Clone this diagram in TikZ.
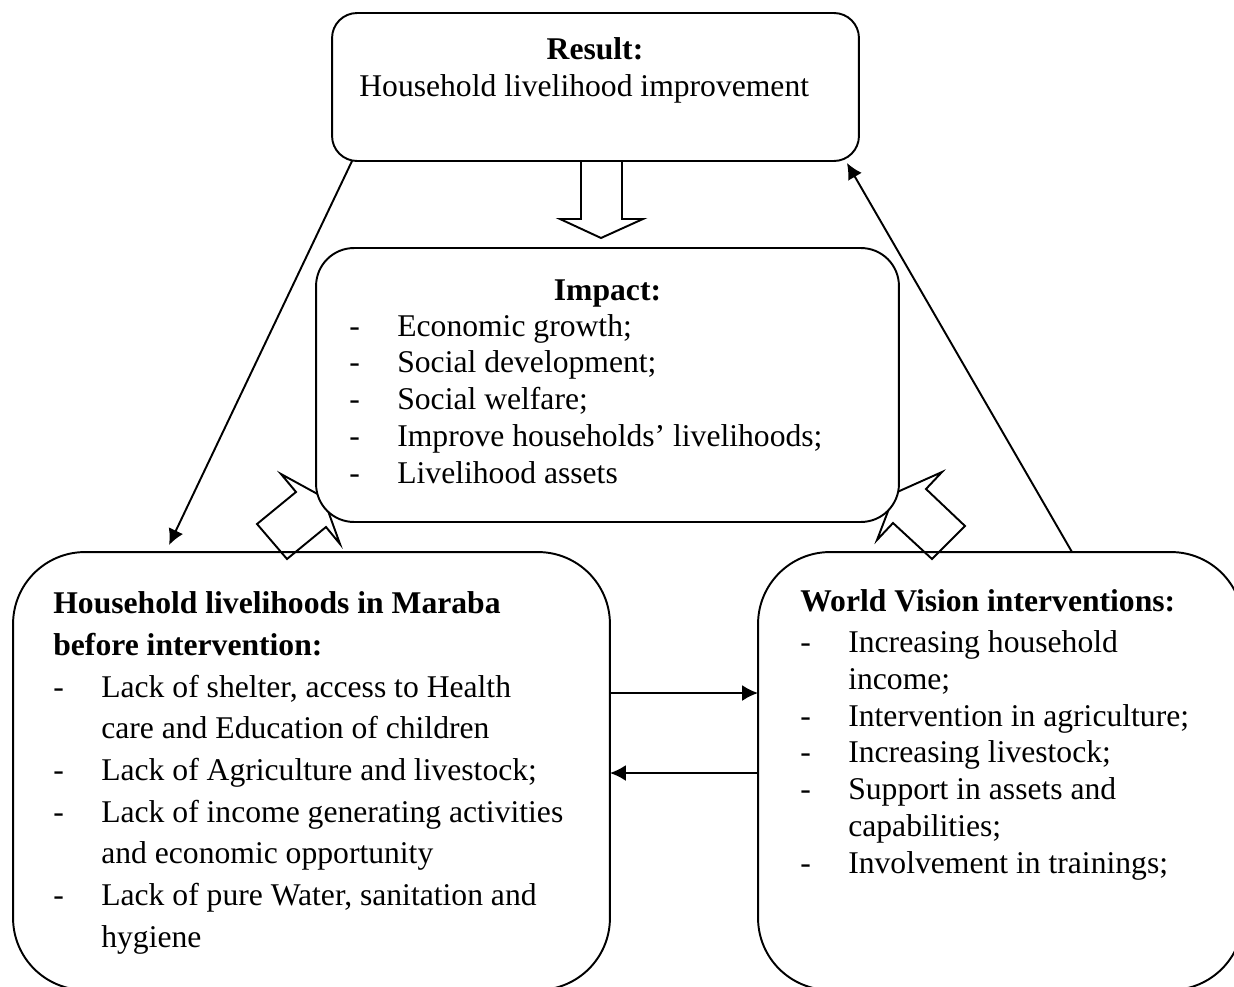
\documentclass[tikz,border=0pt]{standalone}
\usepackage{fontspec}
\setmainfont{Liberation Serif}
\usetikzlibrary{arrows.meta}

\tikzset{
box/.style={draw,line width=1.1pt,fill=white,inner sep=0,outer sep=0},
txt/.style={inner sep=0,align=left,anchor=base west},
link/.style={-{Latex[length=9pt,width=9pt]},line width=1.1pt},
hollow/.style={line width=1.1pt,line join=miter}
}
\newcommand{\dashitem}{\makebox[0.96cm][l]{-}}
\newcommand{\contline}{\hspace*{0.96cm}}

\begin{document}
\begin{tikzpicture}[x=0.02cm,y=-0.02cm,font=\fontsize{18}{20.9}\selectfont]
\useasboundingbox (0,0) rectangle (1234,987);
\clip (0,0) rectangle (1234,987);

\node[box,rounded corners=0.5cm,minimum width=10.54cm,minimum height=2.96cm] (result) at (595.5,87) {};
\draw[hollow] (581,161) -- (581,219) -- (560,219) -- (601,238) -- (643,219) -- (622,219) -- (622,161);

\node[box,rounded corners=1.44cm,minimum width=11.94cm,minimum height=8.76cm] (maraba) at (311.5,771) {};
\node[box,rounded corners=1.44cm,minimum width=9.7cm,minimum height=8.76cm] (vision) at (1000.5,771) {};

\draw[hollow] (296,492) -- (281,474) -- (323,497) -- (340,544) -- (326,527) -- (287,559) -- (257,524) -- cycle;
\draw[hollow] (926,489) -- (942,472) -- (895,493) -- (877,540) -- (893,523) -- (932,559) -- (965,526) -- cycle;

\node[box,rounded corners=0.76cm,minimum width=11.66cm,minimum height=5.48cm] (impact) at (607.5,385) {};

\draw[link] ([xshift=0.4cm]result.south west) -- ([xshift=3.12cm,yshift=0.14cm]maraba.north west);
\draw[link] ([xshift=6.28cm]vision.north west) -- ([xshift=-0.24cm,yshift=-0.04cm]result.south east);
\draw[link] ([yshift=1.56cm]maraba.east) -- ([yshift=1.56cm]vision.west);
\draw[link] ([yshift=-0.04cm]vision.west) -- ([yshift=-0.04cm]maraba.east);

\node[anchor=base,inner sep=0] (resulttitle) at (595,59) {\textbf{Result:}};
\node[txt] (resulttxt) at (359,96) {Household livelihood improvement};

\node[anchor=base,inner sep=0] (impacttitle) at (607.5,300) {\textbf{Impact:}};
\node[txt] (impactlist) at (349,483) {\dashitem Economic growth;\\
\dashitem Social development;\\
\dashitem Social welfare;\\
\dashitem Improve households’ livelihoods;\\
\dashitem Livelihood assets};

\node[txt,font=\fontsize{18}{23.7}\selectfont] (maratxt) at (53,947) {\textbf{Household livelihoods in Maraba}\\
\textbf{before intervention:}\\
\dashitem Lack of shelter, access to Health\\
\contline care and Education of children\\
\dashitem Lack of Agriculture and livestock;\\
\dashitem Lack of income generating activities\\
\contline and economic opportunity\\
\dashitem Lack of pure Water, sanitation and\\
\contline hygiene};

\node[txt] (visiontxt) at (800,873) {\textbf{World Vision interventions:}\\[2.5pt]
\dashitem Increasing household\\
\contline income;\\
\dashitem Intervention in agriculture;\\
\dashitem Increasing livestock;\\
\dashitem Support in assets and\\
\contline capabilities;\\
\dashitem Involvement in trainings;};

\end{tikzpicture}
\end{document}
